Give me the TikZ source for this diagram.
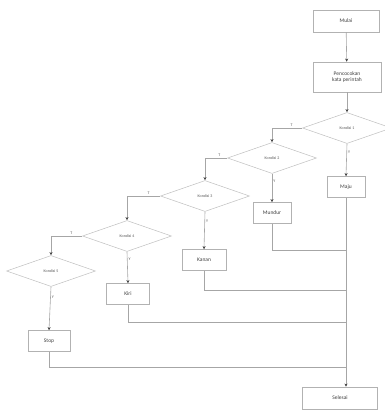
\documentclass[tikz,border=0pt]{standalone}
\usepackage{fontspec}
\setmainfont{Carlito}
\usepackage{tikz}
\usetikzlibrary{shadows}
\usetikzlibrary{positioning}
\usetikzlibrary{arrows,arrows.meta,shapes}
\usetikzlibrary{shapes.geometric}
\usetikzlibrary{calc}
\tikzstyle{kotak}=[rectangle,draw=gray!60,fill=white,line width=0.5pt,font=\fontsize{5.5}{6.5}\selectfont,text=black!75,align=center,inner sep=1pt,drop shadow={opacity=0.15,shadow xshift=0.8pt,shadow yshift=-0.8pt}]
\tikzstyle{kondisi}=[diamond,aspect=2.8,draw=gray!50,fill=white,line width=0.5pt,font=\fontsize{4}{5}\selectfont,text=black!65,inner sep=0pt,minimum width=89pt,minimum height=31pt]
\tikzstyle{alur} = [draw=gray!70,line width=0.6pt,-{Stealth[length=3.2pt,width=3pt,black!75]}]
\tikzstyle{balik} = [draw=gray!70,line width=0.6pt]
\tikzstyle{ket} = [font=\fontsize{4}{5}\selectfont,text=black!65,inner sep=1pt]

\begin{document}
\begin{tikzpicture}[x=1pt,y=-1pt]
   \useasboundingbox (0,0) rectangle (385,410);

   % kotak awal dan akhir
   \node[kotak,minimum width=66pt,minimum height=22pt] (mulai) at (346,21) {Mulai};
   \node[kotak,minimum width=68pt,minimum height=30pt] (cocok) at (347,77) {Pencocokan\\kata perintah};
   \node[kotak,minimum width=75pt,minimum height=22pt] (selesai) at (340,398) {Selesai};

   % kondisi
   \foreach \pos/\name/\no in {{(347,128)/k1/1}, {(272,158)/k2/2}, {(205,196)/k3/3}, {(127,236)/k4/4}, {(51,271)/k5/5}}
            \node[kondisi] (\name) at \pos {Kondisi \no};

   % aksi
   \foreach \pos/\name/\w/\teks in {{(346,187)/maju/38/Maju}, {(272,213)/mundur/38/Mundur}, {(204,260)/kanan/44/Kanan}, {(128,294)/kiri/43/Kiri}, {(49,341)/stop/42/Stop}}
            \node[kotak,minimum width=\w pt,minimum height=21pt] (\name) at \pos {\teks};

   \path[alur] (mulai) -- (cocok);
   \path[alur] (cocok) -- (k1);

   % cabang ya / tidak
   \foreach \source/ \dest /\aksi in {k1/k2/maju, k2/k3/mundur, k3/k4/kanan, k4/k5/kiri}
   {
            \path[alur] (\source.west) -- node[ket,above,pos=0.35] {T} (\source.west -| \dest.north) -- (\dest.north);
            \path[alur] (\source.south) -- node[ket,right,pos=0.25] {Y} (\aksi.north);
   }
   \path[alur] (k5.south) -- node[ket,right,pos=0.25] {Y} (stop.north);

   % kembali ke selesai
   \coordinate (jalur) at (347,0);
   \path[alur] (maju.south) -- (maju.south |- selesai.north);
   \foreach \aksi/\y in {mundur/250, kanan/290, kiri/322, stop/367}
            \path[balik] (\aksi.south) |- (jalur |- 0,\y);

\end{tikzpicture}
\end{document}
